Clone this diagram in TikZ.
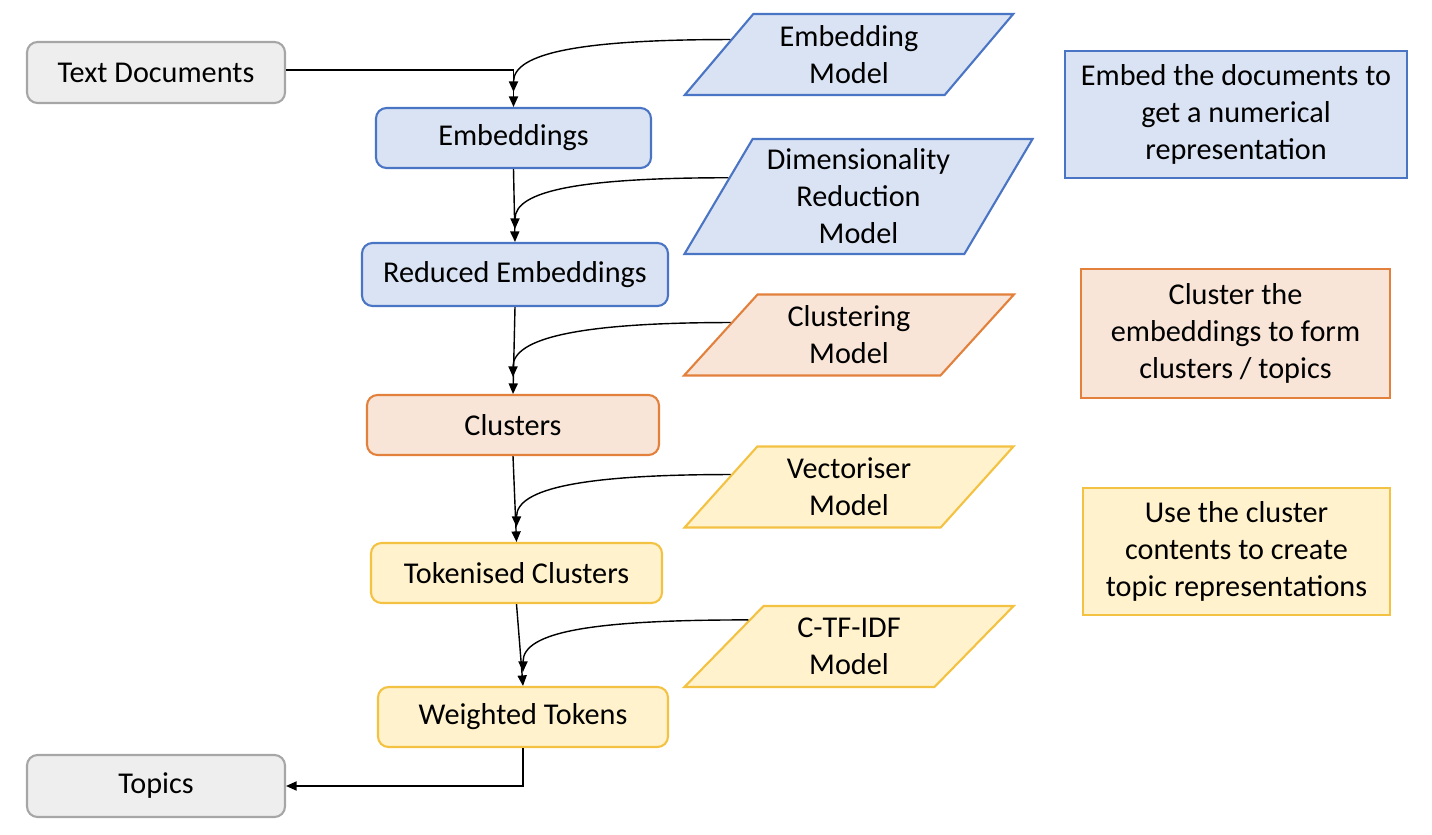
\documentclass[tikz,border=0pt]{standalone}
\usepackage{fontspec}
\setmainfont{Carlito}
\usetikzlibrary{arrows, arrows.meta}
\usetikzlibrary{calc}
\usetikzlibrary{shapes.geometric}

\definecolor{grayFill}{HTML}{EEEEEE}
\definecolor{grayDraw}{HTML}{A6A6A6}
\definecolor{blueFill}{HTML}{DAE3F3}
\definecolor{blueDraw}{HTML}{4A74C4}
\definecolor{orangeFill}{HTML}{F8E5D7}
\definecolor{orangeDraw}{HTML}{E2803C}
\definecolor{yellowFill}{HTML}{FFF2CC}
\definecolor{yellowDraw}{HTML}{F4C242}

\begin{document}
\begin{tikzpicture}[font=\fontsize{8.6}{10.5}\selectfont,
    >={Triangle[length=3pt, width=2.6pt]},
    stage/.style={rectangle, rounded corners=3pt, line width=0.6pt, minimum height=0.6cm},
    model/.style={trapezium, trapezium left angle=51.3, trapezium right angle=128.7, trapezium stretches=true,
      line width=0.6pt, align=center, minimum width=3.3cm, minimum height=0.81cm, inner sep=1pt},
    note/.style={rectangle, line width=0.6pt, align=center, minimum height=1.27cm},
    feed/.style={->, out=180, in=90, out looseness=1.7, in looseness=0.45}]
      \useasboundingbox (0,0) rectangle (14.32,8.34);

      % pipeline
      \node[stage, draw=grayDraw, fill=grayFill, minimum width=2.58cm, minimum height=0.61cm] (textdocs) at (1.56,7.615) {Text Documents};
      \node[stage, draw=blueDraw, fill=blueFill, minimum width=2.75cm] (emb) at (5.135,6.96) {Embeddings};
      \node[stage, draw=blueDraw, fill=blueFill, minimum width=3.06cm, minimum height=0.63cm] (reduced) at (5.15,5.595) {Reduced Embeddings};
      \node[stage, draw=orangeDraw, fill=orangeFill, minimum width=2.92cm] (clusters) at (5.13,4.09) {Clusters};
      \node[stage, draw=yellowDraw, fill=yellowFill, minimum width=2.91cm] (tokenised) at (5.165,2.61) {Tokenised Clusters};
      \node[stage, draw=yellowDraw, fill=yellowFill, minimum width=2.9cm] (weighted) at (5.23,1.17) {Weighted Tokens};
      \node[stage, draw=grayDraw, fill=grayFill, minimum width=2.58cm, minimum height=0.62cm] (topics) at (1.56,0.48) {Topics};

      % models
      \node[model, draw=blueDraw, fill=blueFill] (embmodel) at (8.49,7.795) {Embedding\\Model};
      \node[model, draw=blueDraw, fill=blueFill, trapezium left angle=59, trapezium right angle=121,
        minimum width=3.49cm, minimum height=1.15cm] (dimmodel) at (8.585,6.375) {Dimensionality\\Reduction\\Model};
      \node[model, draw=orangeDraw, fill=orangeFill] (clustmodel) at (8.49,4.99) {Clustering\\Model};
      \node[model, draw=yellowDraw, fill=yellowFill] (vecmodel) at (8.49,3.47) {Vectoriser\\Model};
      \node[model, draw=yellowDraw, fill=yellowFill] (ctfidf) at (8.49,1.875) {C-TF-IDF\\Model};

      % notes
      \node[note, draw=blueDraw, fill=blueFill, minimum width=3.42cm] (embnote) at (12.36,7.195) {Embed the documents to\\get a numerical\\representation};
      \node[note, draw=orangeDraw, fill=orangeFill, minimum width=3.09cm, minimum height=1.29cm] (clustnote) at (12.355,5.005) {Cluster the\\embeddings to form\\clusters / topics};
      \node[note, draw=yellowDraw, fill=yellowFill, minimum width=3.07cm] (topicnote) at (12.365,2.825) {Use the cluster\\contents to create\\topic representations};

      \draw[->] ($(textdocs.east)+(0,0.025)$) -| (emb.north);
      \draw[->] (emb.south) -- (reduced.north);
      \draw[->] (reduced.south) -- (clusters.north);
      \draw[->] (clusters.south) -- (tokenised.north);
      \draw[->] (tokenised.south) -- (weighted.north);
      \draw[->] (weighted.south) |- (topics.east);

      \draw[feed] ($(embmodel.top left corner)!0.32!(embmodel.bottom left corner)$) to ($(emb.north)+(0,0.15)$);
      \draw[feed] ($(dimmodel.top left corner)!0.34!(dimmodel.bottom left corner)$) to ($(reduced.north)+(0,0.13)$);
      \draw[feed] ($(clustmodel.top left corner)!0.35!(clustmodel.bottom left corner)$) to ($(clusters.north)+(0,0.17)$);
      \draw[feed] ($(vecmodel.top left corner)!0.35!(vecmodel.bottom left corner)$) to ($(tokenised.north)+(0,0.15)$);
      \draw[feed] ($(ctfidf.top left corner)!0.18!(ctfidf.bottom left corner)$) to ($(weighted.north)+(0,0.14)$);
    \end{tikzpicture}
\end{document}
